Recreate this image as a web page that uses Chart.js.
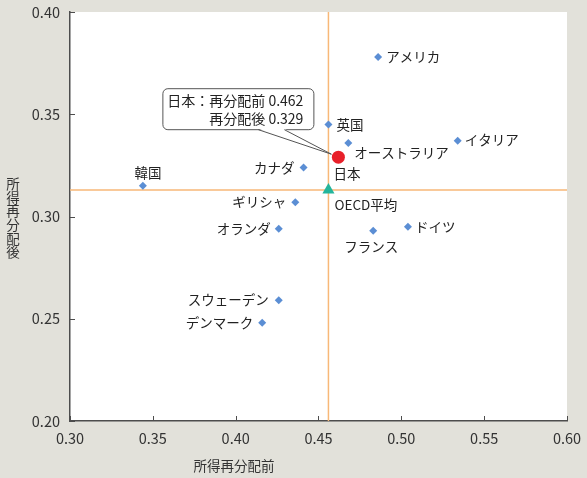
<!DOCTYPE html>
<html lang="ja">
<head>
<meta charset="utf-8">
<script src="https://cdn.jsdelivr.net/npm/chart.js@4.4.1/dist/chart.umd.min.js"></script>
<style>
    html, body { margin: 0; padding: 0; background: #e2e1da; }
    #wrap { width: 587px; height: 478px; position: relative; }
</style>
</head>
<body>
<div id="wrap"><canvas id="chart" width="587" height="478"></canvas></div>
<script>
// data
const countries = ['アメリカ', '英国', 'オーストラリア', 'イタリア', 'カナダ', '韓国', 'ギリシャ', 'オランダ', 'ドイツ', 'フランス', 'スウェーデン', 'デンマーク'];
const beforeValues = [0.486, 0.456, 0.468, 0.534, 0.441, 0.344, 0.436, 0.426, 0.504, 0.483, 0.426, 0.416];
const afterValues  = [0.378, 0.345, 0.336, 0.337, 0.324, 0.315, 0.307, 0.294, 0.295, 0.293, 0.259, 0.248];
const japanName = '日本';
const japanValues = [0.462, 0.329];
const oecdName = 'OECD平均';
const oecdValues = [0.456, 0.313];
const xTitle = '所得再分配前';
const yTitle = '所得再分配後';

// where each label sits next to its marker (pixels)
const labelPlace = {
    'アメリカ': [8, 0, 'left'],
    '英国': [8, 0, 'left'],
    'オーストラリア': [6, 10, 'left'],
    'イタリア': [7, -1, 'left'],
    'カナダ': [-9, 0, 'right'],
    '韓国': [5, -13, 'center'],
    'ギリシャ': [-9, 0, 'right'],
    'オランダ': [-8, 0, 'right'],
    'ドイツ': [7, 0, 'left'],
    'フランス': [-2, 16, 'center'],
    'スウェーデン': [-10, 0, 'right'],
    'デンマーク': [-9, 0, 'right'],
    '日本': [-5, 17, 'left'],
    'OECD平均': [6, 15, 'left']
};

Chart.defaults.font.family = '"Noto Sans CJK JP", "Noto Sans", sans-serif';

const textColor = '#222';
const axisColor = '#4d4d4d';

const overlay = {
    id: 'overlay',
    beforeDatasetsDraw(chart) {
        const ctx = chart.ctx;
        const xs = chart.scales.x, ys = chart.scales.y;
        const area = chart.chartArea;
        ctx.save();
        // average lines
        ctx.strokeStyle = '#f8b878';
        ctx.lineWidth = 1.5;
        const ox = xs.getPixelForValue(oecdValues[0]);
        const oy = ys.getPixelForValue(oecdValues[1]);
        ctx.beginPath();
        ctx.moveTo(ox, area.top);
        ctx.lineTo(ox, area.bottom);
        ctx.moveTo(area.left, oy);
        ctx.lineTo(area.right, oy);
        ctx.stroke();

        // callout for Japan
        const jx = xs.getPixelForValue(japanValues[0]);
        const jy = ys.getPixelForValue(japanValues[1]);
        const bl = jx - 176, br = jx - 25, bt = jy - 69, bb = jy - 28;
        ctx.fillStyle = '#fff';
        ctx.strokeStyle = '#555';
        ctx.lineWidth = 1;
        ctx.beginPath();
        ctx.roundRect(bl + 0.5, bt + 0.5, br - bl, bb - bt, 5);
        ctx.fill();
        ctx.stroke();
        const w1 = jx - 80, w2 = jx - 54, tipX = jx - 7, tipY = jy - 3;
        ctx.beginPath();
        ctx.moveTo(w1, bb - 0.5);
        ctx.lineTo(tipX, tipY);
        ctx.lineTo(w2, bb - 0.5);
        ctx.closePath();
        ctx.fill();
        ctx.beginPath();
        ctx.moveTo(w1, bb + 0.5);
        ctx.lineTo(tipX, tipY);
        ctx.lineTo(w2, bb + 0.5);
        ctx.stroke();
        ctx.fillStyle = textColor;
        ctx.font = '14px "Noto Sans CJK JP"';
        ctx.textAlign = 'right';
        ctx.textBaseline = 'middle';
        ctx.fillText(japanName + '：再分配前 ' + japanValues[0].toFixed(3), br - 10, bt + 12);
        ctx.fillText('再分配後 ' + japanValues[1].toFixed(3), br - 10, bt + 30);
        ctx.restore();
    },
    afterDatasetsDraw(chart) {
        const ctx = chart.ctx;
        const xs = chart.scales.x, ys = chart.scales.y;
        const area = chart.chartArea;
        ctx.save();
        ctx.fillStyle = textColor;
        ctx.font = '13.5px "Noto Sans CJK JP"';
        ctx.textBaseline = 'middle';
        const put = (name, vx, vy) => {
            const p = labelPlace[name];
            ctx.textAlign = p[2];
            ctx.fillText(name, xs.getPixelForValue(vx) + p[0], ys.getPixelForValue(vy) + p[1]);
        };
        countries.forEach((c, i) => put(c, beforeValues[i], afterValues[i]));
        put(japanName, japanValues[0], japanValues[1]);
        put(oecdName, oecdValues[0], oecdValues[1]);

        // inward tick marks
        ctx.strokeStyle = axisColor;
        ctx.lineWidth = 1;
        ctx.beginPath();
        xs.ticks.forEach(t => {
            const px = Math.round(xs.getPixelForValue(t.value)) + 0.5;
            ctx.moveTo(px, area.bottom);
            ctx.lineTo(px, area.bottom - 5);
        });
        ys.ticks.forEach(t => {
            const py = Math.round(ys.getPixelForValue(t.value)) + 0.5;
            ctx.moveTo(area.left, py);
            ctx.lineTo(area.left + 5, py);
        });
        ctx.stroke();

        // axis titles
        ctx.fillStyle = '#333';
        ctx.font = '13.5px "Noto Sans CJK JP"';
        ctx.textAlign = 'center';
        ctx.fillText(xTitle, 234, 466);
        [...yTitle].forEach((ch, i) => ctx.fillText(ch, 13, 184 + i * 13.6));
        ctx.restore();
    }
};

const plotBg = {
    id: 'plotBg',
    beforeDraw(chart) {
        const a = chart.chartArea;
        chart.ctx.save();
        chart.ctx.fillStyle = '#fff';
        chart.ctx.fillRect(a.left, a.top, a.right - a.left, a.bottom - a.top);
        chart.ctx.restore();
    }
};

new Chart(document.getElementById('chart'), {
    type: 'scatter',
    data: {
        datasets: [{
            label: '各国',
            data: countries.map((c, i) => ({ x: beforeValues[i], y: afterValues[i] })),
            pointStyle: 'rectRot',
            pointRadius: 4,
            backgroundColor: '#5b8ed4',
            borderColor: '#5b8ed4',
            borderWidth: 0
        }, {
            label: japanName,
            data: [{ x: japanValues[0], y: japanValues[1] }],
            pointStyle: 'circle',
            pointRadius: 6.5,
            backgroundColor: '#e8202a',
            borderColor: '#e8202a',
            borderWidth: 0
        }, {
            label: oecdName,
            data: [{ x: oecdValues[0], y: oecdValues[1] }],
            pointStyle: 'triangle',
            pointRadius: 7,
            backgroundColor: '#24b59c',
            borderColor: '#24b59c',
            borderWidth: 0
        }]
    },
    options: {
        responsive: false,
        animation: false,
        layout: { padding: { left: 0, right: 20, top: 12, bottom: 0 } },
        plugins: { legend: { display: false }, tooltip: { enabled: false } },
        scales: {
            x: {
                min: 0.30, max: 0.60,
                afterFit: s => { s.height = 57; s.paddingLeft = 0; s.paddingRight = 0; },
                ticks: { stepSize: 0.05, color: '#333', padding: 9, font: { size: 14.5 },
                    callback: v => v.toFixed(2) },
                grid: { display: true, drawOnChartArea: false, drawTicks: false },
                border: { color: axisColor, width: 1.5 }
            },
            y: {
                min: 0.20, max: 0.40,
                afterFit: s => { s.width = 70; s.paddingTop = 0; s.paddingBottom = 0; },
                ticks: { stepSize: 0.05, color: '#333', padding: 10, font: { size: 14.5 },
                    callback: v => v.toFixed(2) },
                grid: { display: true, drawOnChartArea: false, drawTicks: false },
                border: { color: axisColor, width: 1.5 }
            }
        }
    },
    plugins: [plotBg, overlay]
});
</script>
</body>
</html>
